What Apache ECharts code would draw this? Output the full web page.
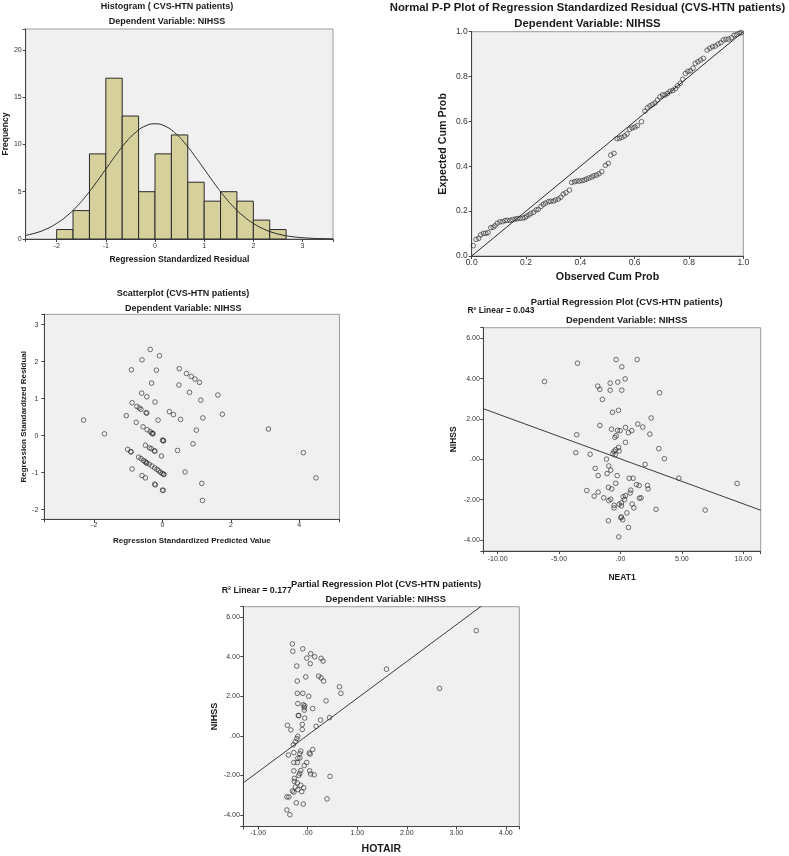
<!DOCTYPE html>
<html>
<head>
<meta charset="utf-8">
<script src="https://cdn.jsdelivr.net/npm/echarts@6/dist/echarts.min.js"></script>
<style>
html, body { margin: 0; padding: 0; background: #fff; }
#chart { width: 789px; height: 856px; }
</style>
</head>
<body>
<div id="chart"></div>
<script>
// ---- histogram of standardized residuals
const histBinStarts = [-2.00, -1.667, -1.333, -1.00, -0.667, -0.333, 0.00, 0.333, 0.667, 1.00, 1.333, 1.667, 2.00, 2.333];
const histBinWidth = 0.333;
const histCounts = [1, 3, 9, 17, 13, 5, 9, 11, 6, 4, 5, 4, 2, 1];
// normal curve
const normalCurveX = [-2.63, -2.4, -2.2, -2.0, -1.8, -1.6, -1.4, -1.2, -1.0, -0.8, -0.6, -0.4, -0.2, 0, 0.2, 0.4, 0.6, 0.8, 1.0, 1.2, 1.4, 1.6, 1.8, 2.0, 2.2, 2.4, 2.6, 2.8, 3.0, 3.2, 3.4, 3.62];
const normalCurveY = [0.38, 0.68, 1.08, 1.65, 2.41, 3.38, 4.57, 5.93, 7.39, 8.84, 10.18, 11.24, 11.94, 12.18, 11.94, 11.24, 10.18, 8.84, 7.39, 5.93, 4.57, 3.38, 2.41, 1.65, 1.08, 0.68, 0.41, 0.24, 0.14, 0.07, 0.04, 0.02];

// ---- normal P-P plot [observed cum prob, expected cum prob]
const ppPoints = [
  [0.006,0.046],[0.016,0.074],[0.026,0.079],[0.033,0.094],[0.043,0.101],[0.052,0.101],[0.060,0.104],[0.070,0.126],[0.079,0.128],[0.086,0.135],
  [0.094,0.146],[0.104,0.152],[0.114,0.153],[0.123,0.158],[0.131,0.159],[0.141,0.159],[0.150,0.162],[0.160,0.165],[0.168,0.166],[0.178,0.168],
  [0.188,0.169],[0.196,0.171],[0.202,0.178],[0.211,0.183],[0.218,0.190],[0.228,0.195],[0.237,0.205],[0.245,0.208],[0.255,0.221],[0.264,0.230],
  [0.272,0.236],[0.282,0.242],[0.291,0.244],[0.301,0.245],[0.309,0.250],[0.319,0.254],[0.328,0.262],[0.337,0.276],[0.347,0.282],[0.360,0.294],
  [0.368,0.328],[0.378,0.331],[0.387,0.334],[0.396,0.334],[0.406,0.336],[0.415,0.339],[0.423,0.343],[0.432,0.348],[0.442,0.352],[0.450,0.358],
  [0.460,0.361],[0.469,0.367],[0.479,0.376],[0.492,0.404],[0.503,0.413],[0.512,0.450],[0.524,0.458],[0.535,0.523],[0.544,0.525],[0.553,0.529],
  [0.563,0.535],[0.572,0.544],[0.582,0.565],[0.591,0.571],[0.601,0.575],[0.610,0.581],[0.625,0.599],[0.638,0.646],[0.647,0.661],[0.656,0.669],
  [0.665,0.675],[0.675,0.682],[0.683,0.695],[0.693,0.710],[0.703,0.718],[0.712,0.718],[0.721,0.725],[0.730,0.734],[0.740,0.738],[0.750,0.746],
  [0.758,0.759],[0.768,0.770],[0.777,0.788],[0.787,0.814],[0.796,0.823],[0.805,0.826],[0.815,0.837],[0.823,0.859],[0.833,0.866],[0.843,0.874],
  [0.853,0.881],[0.867,0.918],[0.877,0.926],[0.887,0.933],[0.897,0.936],[0.907,0.945],[0.917,0.951],[0.926,0.963],[0.936,0.966],[0.946,0.967],
  [0.956,0.973],[0.966,0.984],[0.975,0.987],[0.985,0.993],[0.993,0.996]
];
const ppDiagonal = [[0, 0], [1, 1]];

// ---- scatterplot [standardized predicted, standardized residual]
const residScatter = [
  [-0.36,2.33],[-0.09,2.16],[-0.60,2.05],[-0.91,1.78],[-0.18,1.77],[0.49,1.81],[0.70,1.68],[0.84,1.60],[0.95,1.53],[1.08,1.44],
  [-0.32,1.42],[0.48,1.37],[1.62,1.10],[0.79,1.17],[-0.61,1.15],[-0.46,1.05],[1.12,0.96],[-0.22,0.91],[-0.89,0.89],[-0.75,0.79],
  [-0.68,0.75],[-0.63,0.71],[-0.48,0.62],[-0.46,0.61],[0.20,0.65],[0.32,0.57],[1.75,0.58],[-1.06,0.54],[0.53,0.44],[1.18,0.48],
  [-0.13,0.42],[-0.77,0.36],[0.99,0.15],[-0.57,0.24],[-0.45,0.16],[-0.36,0.11],[-0.31,0.07],[-0.28,0.05],[-1.70,0.05],[0.00,-0.12],
  [0.03,-0.14],[0.89,-0.22],[-0.50,-0.26],[-0.38,-0.33],[-0.33,-0.35],[-0.24,-0.41],[-0.22,-0.42],[0.44,-0.40],[-1.02,-0.37],[-0.92,-0.44],
  [-0.93,-0.43],[-0.03,-0.55],[-0.70,-0.58],[-0.63,-0.62],[-0.56,-0.67],[-0.51,-0.70],[-0.46,-0.74],[-0.39,-0.77],[-0.31,-0.82],[-0.23,-0.87],
  [-0.16,-0.91],[-0.11,-0.95],[-0.06,-0.99],[-0.01,-1.02],[0.04,-1.05],[0.66,-0.98],[-0.89,-0.90],[-0.60,-1.08],[-0.50,-1.14],[-0.23,-1.31],
  [-0.21,-1.33],[0.00,-1.47],[0.02,-1.48],[1.15,-1.29],[1.17,-1.75],[-2.31,0.42],[3.10,0.18],[4.12,-0.46],[4.49,-1.14],[-0.29,0.06],
  [0.02,-0.13],[-0.48,-0.73],[0.03,-1.04]
];

// ---- partial regression: NEAT1 [NEAT1 residual, NIHSS residual]
const neat1Points = [
  [-3.50,4.77],[-0.35,4.95],[1.36,4.95],[0.11,4.59],[-6.19,3.86],[0.38,3.99],[-1.85,3.63],[-1.68,3.47],[-0.84,3.78],[-0.22,3.83],
  [-0.84,3.43],[0.11,3.43],[3.18,3.30],[-1.47,2.97],[-0.65,2.33],[-0.16,2.43],[2.50,2.05],[-1.68,1.68],[1.41,1.75],[1.82,1.60],
  [-0.73,1.49],[-0.24,1.44],[-0.03,1.42],[0.41,1.58],[0.92,1.42],[0.65,1.32],[2.39,1.25],[-3.56,1.22],[-0.35,1.17],[-0.46,1.09],
  [0.41,0.84],[3.12,0.53],[-0.16,0.59],[-0.38,0.48],[-0.11,0.41],[-0.52,0.40],[-0.62,0.28],[-0.43,0.23],[-3.64,0.33],[-2.47,0.25],
  [3.58,0.03],[-1.14,0.01],[2.01,-0.25],[-0.95,-0.33],[-2.06,-0.45],[-0.79,-0.54],[-1.09,-0.71],[-1.82,-0.81],[-0.27,-0.81],[0.71,-0.94],
  [1.03,-0.94],[4.75,-0.94],[-0.38,-1.19],[1.30,-1.25],[1.52,-1.30],[2.20,-1.30],[2.25,-1.47],[-0.98,-1.39],[-0.71,-1.47],[-2.74,-1.55],
  [-1.82,-1.63],[-2.14,-1.83],[-1.36,-1.91],[-0.79,-1.98],[-0.95,-2.05],[0.22,-1.86],[0.41,-1.80],[0.79,-1.67],[0.84,-1.53],[0.33,-2.00],
  [1.54,-1.93],[1.68,-1.91],[0.08,-2.16],[-0.11,-2.23],[-0.52,-2.28],[-0.52,-2.41],[0.08,-2.31],[0.95,-2.22],[1.09,-2.41],[2.90,-2.48],
  [6.90,-2.52],[0.52,-2.66],[0.08,-2.86],[0.19,-3.00],[-0.98,-3.05],[0.65,-3.38],[-0.14,-3.85],[0.03,-2.90],[9.50,-1.20]
];
const neat1Fit = { slope: -0.223, intercept: 0.02, r2: '0.043' };

// ---- partial regression: HOTAIR
const hotairPoints = [
  [-0.31,4.65],[-0.30,4.28],[-0.10,4.40],[0.06,4.15],[-0.02,3.93],[0.14,4.00],[0.27,3.92],[0.31,3.78],[0.05,3.65],[-0.22,3.53],
  [-0.04,2.98],[0.22,3.02],[0.27,2.93],[0.32,2.77],[-0.21,2.77],[0.64,2.48],[0.67,2.15],[-0.21,2.15],[-0.10,2.15],[0.02,2.00],
  [0.37,1.77],[-0.20,1.63],[-0.09,1.57],[-0.06,1.52],[-0.07,1.43],[0.10,1.38],[-0.07,1.30],[-0.19,1.03],[-0.18,1.02],[-0.06,0.90],
  [0.44,0.92],[0.26,0.80],[-0.11,0.58],[0.17,0.48],[-0.41,0.53],[-0.34,0.30],[-0.11,0.32],[-0.20,-0.02],[-0.22,-0.14],[-0.25,-0.30],
  [-0.29,-0.45],[0.10,-0.69],[-0.14,-0.77],[-0.28,-0.85],[0.03,-0.87],[0.05,-0.92],[-0.16,-0.90],[-0.39,-0.97],[-0.20,-1.13],[-0.16,-1.12],
  [-0.28,-1.35],[-0.21,-1.35],[-0.02,-1.35],[-0.07,-1.50],[-0.14,-1.75],[-0.28,-1.77],[0.04,-1.77],[0.06,-1.93],[0.13,-1.97],[0.45,-2.05],
  [-0.16,-1.90],[-0.18,-2.00],[-0.27,-2.15],[-0.27,-2.30],[-0.21,-2.38],[-0.14,-2.50],[-0.08,-2.63],[-0.25,-2.59],[-0.20,-2.72],[-0.31,-2.79],
  [-0.28,-2.85],[-0.12,-2.82],[-0.42,-3.09],[-0.38,-3.09],[0.39,-3.19],[-0.23,-3.39],[-0.09,-3.45],[-0.42,-3.75],[-0.36,-3.99],[1.59,3.37],
  [2.66,2.40],[3.40,5.32]
];
const hotairFit = { slope: 1.86, intercept: 0.04, r2: '0.177' };

// axis extents
const histX = [-2.63, 3.62], histY = [0, 22.2];
const scatX = [-3.46, 5.18], scatY = [-2.26, 3.28];
const neatX = [-11.17, 11.42], neatY = [-4.55, 6.53];
const hotX = [-1.30, 4.27], hotY = [-4.585, 6.53];

const FONT = "'Liberation Sans', Arial, sans-serif";

function onStep(v, step) { return Math.abs(v / step - Math.round(v / step)) < 1e-6; }
const fmtInt = v => String(Math.round(v));
const fmt1 = v => v.toFixed(1);
const fmt2 = v => v.toFixed(2).replace(/^(-?)0\./, '$1.');

function axis(o) {
  return {
    type: 'value', gridIndex: o.grid, min: o.ext[0], max: o.ext[1],
    splitNumber: o.split, interval: o.interval,
    name: o.name, nameLocation: 'middle', nameGap: o.gap,
    nameTextStyle: { fontFamily: FONT, fontWeight: 'bold', fontSize: o.nameSize, color: '#1a1a1a' },
    axisLine: { show: true, onZero: false, lineStyle: { color: '#444', width: 1 } },
    axisTick: { show: true, inside: false, length: 3, lineStyle: { color: '#444' } },
    axisLabel: {
      fontFamily: FONT, fontSize: o.labelSize, color: '#333', margin: o.margin,
      formatter: v => onStep(v, o.step) ? o.fmt(v) : ''
    },
    splitLine: { show: false }
  };
}

function fitLine(fit, ext) {
  return [[ext[0], fit.intercept + fit.slope * ext[0]], [ext[1], fit.intercept + fit.slope * ext[1]]];
}

const dot = {
  symbol: 'circle', symbolSize: 4.6,
  itemStyle: { color: 'rgba(0,0,0,0)', borderColor: '#222', borderWidth: 0.8 }
};

function txt(x, y, text, size, align) {
  return {
    type: 'text', x: x, y: y, silent: true,
    style: {
      text: text, fontFamily: FONT, fontWeight: 'bold', fontSize: size,
      fill: '#1a1a1a', align: align || 'center', verticalAlign: 'middle'
    }
  };
}

const gridBase = { show: true, backgroundColor: '#f0f0f0', borderColor: '#9a9a9a', borderWidth: 1, containLabel: false };

const chart = echarts.init(document.getElementById('chart'));
chart.setOption({
  animation: false,
  backgroundColor: '#fff',
  grid: [
    Object.assign({ left: 25, top: 29, width: 308, height: 210 }, gridBase),
    Object.assign({ left: 471.7, top: 31.7, width: 271.6, height: 224.3 }, gridBase),
    Object.assign({ left: 44.3, top: 314.3, width: 295.2, height: 205 }, gridBase),
    Object.assign({ left: 483.3, top: 327.7, width: 277.4, height: 223.3 }, gridBase),
    Object.assign({ left: 243.3, top: 606.7, width: 276, height: 222.3 }, gridBase)
  ],
  xAxis: [
    axis({ grid: 0, ext: histX, split: 6, step: 1, fmt: fmtInt, labelSize: 7, margin: 4, name: 'Regression Standardized Residual', gap: 16.5, nameSize: 8.5 }),
    axis({ grid: 1, ext: [0, 1], interval: 0.2, step: 0.2, fmt: fmt1, labelSize: 8.5, margin: 2, name: 'Observed Cum Prob', gap: 15.5, nameSize: 10.7 }),
    axis({ grid: 2, ext: scatX, split: 4, step: 2, fmt: fmtInt, labelSize: 7, margin: 2.5, name: 'Regression Standardized Predicted Value', gap: 17.5, nameSize: 8 }),
    axis({ grid: 3, ext: neatX, split: 5, step: 5, fmt: fmt2, labelSize: 7, margin: 5, name: 'NEAT1', gap: 22.5, nameSize: 8.5 }),
    axis({ grid: 4, ext: hotX, split: 5, step: 1, fmt: fmt2, labelSize: 7, margin: 3.5, name: 'HOTAIR', gap: 17.5, nameSize: 10.5 })
  ],
  yAxis: [
    axis({ grid: 0, ext: histY, split: 5, step: 5, fmt: fmtInt, labelSize: 7, margin: 4, name: 'Frequency', gap: 15.5, nameSize: 8.5 }),
    axis({ grid: 1, ext: [0, 1], interval: 0.2, step: 0.2, fmt: fmt1, labelSize: 8.5, margin: 4, name: 'Expected Cum Prob', gap: 23, nameSize: 10.7 }),
    axis({ grid: 2, ext: scatY, split: 5, step: 1, fmt: fmtInt, labelSize: 7, margin: 6, name: 'Regression Standardized Residual', gap: 15.3, nameSize: 8 }),
    axis({ grid: 3, ext: neatY, split: 5, step: 2, fmt: fmt2, labelSize: 7, margin: 3.5, name: 'NIHSS', gap: 25.5, nameSize: 8.5 }),
    axis({ grid: 4, ext: hotY, split: 5, step: 2, fmt: fmt2, labelSize: 7, margin: 3.5, name: 'NIHSS', gap: 23.8, nameSize: 9 })
  ],
  series: [
    {
      type: 'custom', xAxisIndex: 0, yAxisIndex: 0,
      data: histBinStarts.map((s, i) => [s, s + histBinWidth, histCounts[i]]),
      encode: { x: [0, 1], y: 2 },
      renderItem: function (params, api) {
        const p0 = api.coord([api.value(0), api.value(2)]);
        const p1 = api.coord([api.value(1), 0]);
        return {
          type: 'rect',
          shape: { x: p0[0], y: p0[1], width: p1[0] - p0[0], height: p1[1] - p0[1] },
          style: { fill: '#d6d19c', stroke: '#2a2a2a', lineWidth: 1 }
        };
      }
    },
    {
      type: 'line', xAxisIndex: 0, yAxisIndex: 0, smooth: true, symbol: 'none',
      data: normalCurveX.map((x, i) => [x, normalCurveY[i]]),
      lineStyle: { color: '#2a2a2a', width: 1 }
    },
    {
      type: 'line', xAxisIndex: 1, yAxisIndex: 1, symbol: 'none', data: ppDiagonal,
      lineStyle: { color: '#2a2a2a', width: 1 }
    },
    Object.assign({ type: 'scatter', xAxisIndex: 1, yAxisIndex: 1, data: ppPoints }, dot),
    Object.assign({ type: 'scatter', xAxisIndex: 2, yAxisIndex: 2, data: residScatter }, dot),
    {
      type: 'line', xAxisIndex: 3, yAxisIndex: 3, symbol: 'none', data: fitLine(neat1Fit, neatX),
      lineStyle: { color: '#3a3a3a', width: 1 }
    },
    Object.assign({ type: 'scatter', xAxisIndex: 3, yAxisIndex: 3, data: neat1Points }, dot),
    {
      type: 'line', xAxisIndex: 4, yAxisIndex: 4, symbol: 'none', clip: true, data: fitLine(hotairFit, hotX),
      lineStyle: { color: '#3a3a3a', width: 1 }
    },
    Object.assign({ type: 'scatter', xAxisIndex: 4, yAxisIndex: 4, data: hotairPoints }, dot)
  ],
  graphic: [
    txt(167, 6.5, 'Histogram ( CVS-HTN patients)', 9),
    txt(167, 22, 'Dependent Variable: NIHSS', 9),
    txt(587.5, 8, 'Normal P-P Plot of Regression Standardized Residual (CVS-HTN patients)', 11.3),
    txt(587.5, 24, 'Dependent Variable: NIHSS', 11.3),
    txt(183, 293.3, 'Scatterplot (CVS-HTN patients)', 9),
    txt(183.3, 308.3, 'Dependent Variable: NIHSS', 9),
    txt(626.7, 302.3, 'Partial Regression Plot (CVS-HTN patients)', 9.4),
    txt(626.7, 320, 'Dependent Variable: NIHSS', 9.4),
    txt(467.5, 311, 'R\u00b2 Linear = ' + neat1Fit.r2, 8.4, 'left'),
    txt(386, 584.3, 'Partial Regression Plot (CVS-HTN patients)', 9.3),
    txt(385.8, 599, 'Dependent Variable: NIHSS', 9.3),
    txt(221.7, 591, 'R\u00b2 Linear = ' + hotairFit.r2, 8.8, 'left')
  ]
});
</script>
</body>
</html>
